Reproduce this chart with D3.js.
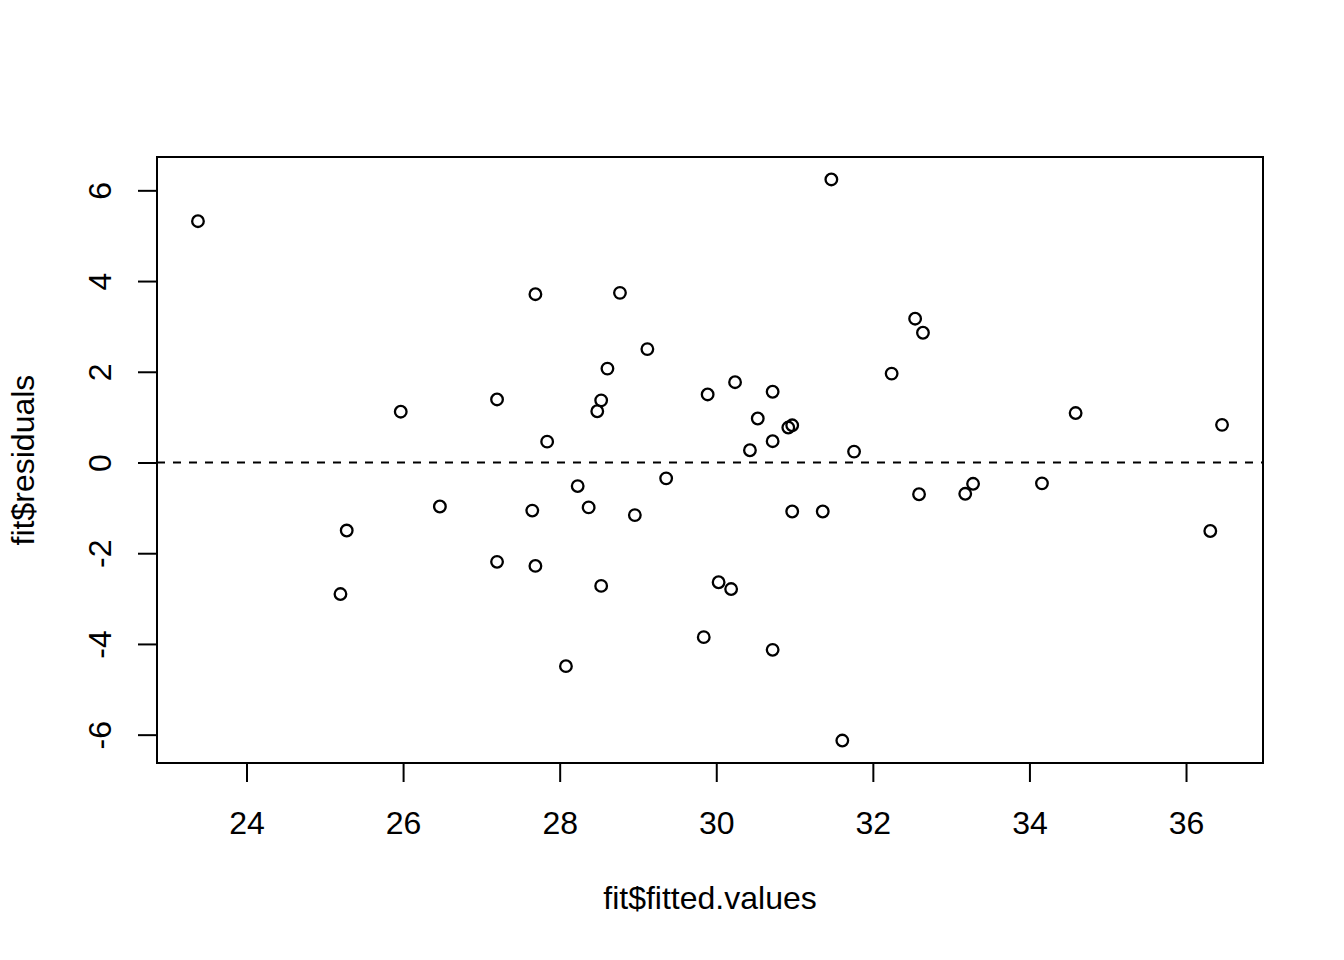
<!DOCTYPE html>
<html>
<head>
<meta charset="utf-8">
<script src="https://cdn.jsdelivr.net/npm/d3@7"></script>
<style>
  html, body { margin: 0; padding: 0; background: #fff; }
  svg { display: block; }
  text { font-family: "Liberation Sans", Arial, sans-serif; fill: #000; }
</style>
</head>
<body>
<svg id="chart" width="1344" height="960"></svg>
<script>
// Fitted values (x) and residuals (y)
const fittedValues = [
  23.38, 31.47, 27.69, 28.77, 32.54, 32.64, 29.12, 28.61, 32.24, 30.24,
  27.20, 28.53, 29.89, 30.72, 25.97, 28.48, 34.59, 30.53, 30.97, 30.92,
  36.46, 27.84, 30.72, 30.43, 31.76, 29.36, 28.23, 34.16, 33.28, 33.18,
  32.59, 26.47, 28.37, 27.65, 30.97, 31.36, 28.96, 25.28, 36.31, 27.20,
  27.69, 30.03, 30.19, 28.53, 25.20, 29.84, 30.72, 28.08, 31.61
];
const residuals = [
   5.32,  6.24,  3.71,  3.74,  3.17,  2.86,  2.50,  2.07,  1.96,  1.77,
   1.39,  1.37,  1.50,  1.56,  1.12,  1.13,  1.09,  0.97,  0.82,  0.77,
   0.83,  0.46,  0.47,  0.27,  0.24, -0.35, -0.52, -0.46, -0.47, -0.69,
  -0.70, -0.97, -0.99, -1.06, -1.08, -1.08, -1.16, -1.50, -1.51, -2.19,
  -2.28, -2.64, -2.79, -2.72, -2.90, -3.85, -4.13, -4.49, -6.13
];
const xTicks = [24, 26, 28, 30, 32, 34, 36];
const yTicks = [-6, -4, -2, 0, 2, 4, 6];
const xLabel = "fit$fitted.values";
const yLabel = "fit$residuals";
const refLine = 0;

const W = 1344, H = 960;
const margin = { top: 157, right: 81, bottom: 197, left: 157 };

// R-style axis range: data extent extended by 4%
function rRange(v) {
  const [lo, hi] = d3.extent(v);
  const d = (hi - lo) * 0.04;
  return [lo - d, hi + d];
}

const x = d3.scaleLinear().domain(rRange(fittedValues)).range([margin.left, W - margin.right]);
const y = d3.scaleLinear().domain(rRange(residuals)).range([H - margin.bottom, margin.top]);

const svg = d3.select("#chart");
const lw = 2;
const fmt = d => String(d); // plain hyphen-minus like R

svg.append("defs").append("clipPath").attr("id", "plotclip")
  .append("rect")
  .attr("x", margin.left).attr("y", margin.top)
  .attr("width", W - margin.left - margin.right)
  .attr("height", H - margin.top - margin.bottom);

// reference dashed line
svg.append("line")
  .attr("clip-path", "url(#plotclip)")
  .attr("x1", margin.left).attr("x2", W - margin.right)
  .attr("y1", y(refLine)).attr("y2", y(refLine))
  .attr("stroke", "#000").attr("stroke-width", lw)
  .attr("stroke-dasharray", "8,8");

// points
svg.append("g").selectAll("circle")
  .data(fittedValues.map((fv, i) => [fv, residuals[i]]))
  .join("circle")
  .attr("cx", d => x(d[0]))
  .attr("cy", d => y(d[1]))
  .attr("r", 5.8)
  .attr("fill", "none")
  .attr("stroke", "#000")
  .attr("stroke-width", 2.3);

// X axis
const xAxis = d3.axisBottom(x).tickValues(xTicks).tickSize(19).tickPadding(0).tickFormat(fmt);
const gx = svg.append("g").attr("transform", `translate(0,${H - margin.bottom})`).call(xAxis);
gx.select(".domain").attr("d", `M${x(xTicks[0])},0H${x(xTicks[xTicks.length - 1])}`)
  .attr("stroke", "#000").attr("stroke-width", lw);
gx.selectAll(".tick line").attr("stroke", "#000").attr("stroke-width", lw);
gx.selectAll(".tick text")
  .attr("y", 71).attr("dy", null)
  .style("font-family", '"Liberation Sans", Arial, sans-serif')
  .style("font-size", "32px").attr("fill", "#000");

// Y axis
const yAxis = d3.axisLeft(y).tickValues(yTicks).tickSize(19).tickPadding(0).tickFormat(fmt);
const gy = svg.append("g").attr("transform", `translate(${margin.left},0)`).call(yAxis);
gy.select(".domain").attr("d", `M0,${y(yTicks[0])}V${y(yTicks[yTicks.length - 1])}`)
  .attr("stroke", "#000").attr("stroke-width", lw);
gy.selectAll(".tick line").attr("stroke", "#000").attr("stroke-width", lw);
gy.selectAll(".tick text")
  .attr("x", null).attr("dy", null)
  .attr("text-anchor", "middle")
  .attr("transform", `translate(${111 - margin.left},0) rotate(-90)`)
  .style("font-family", '"Liberation Sans", Arial, sans-serif')
  .style("font-size", "32px").attr("fill", "#000");

// box
svg.append("rect")
  .attr("x", margin.left).attr("y", margin.top)
  .attr("width", W - margin.left - margin.right)
  .attr("height", H - margin.top - margin.bottom)
  .attr("fill", "none").attr("stroke", "#000").attr("stroke-width", lw);

// axis titles
svg.append("text")
  .attr("x", (margin.left + W - margin.right) / 2)
  .attr("y", 909)
  .attr("text-anchor", "middle")
  .style("font-size", "32px")
  .text(xLabel);

svg.append("text")
  .attr("transform", `translate(34,${(margin.top + H - margin.bottom) / 2}) rotate(-90)`)
  .attr("text-anchor", "middle")
  .style("font-size", "32px")
  .text(yLabel);
</script>
</body>
</html>
